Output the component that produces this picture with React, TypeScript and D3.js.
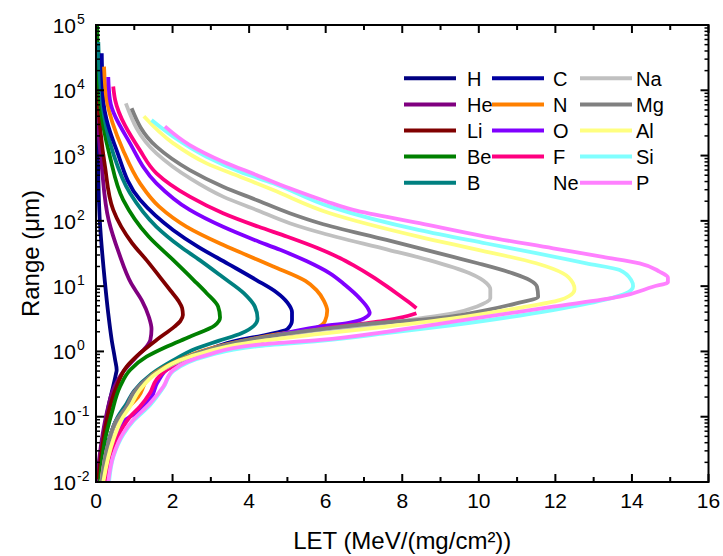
import React from 'react';
import * as d3 from 'd3';

const W = 723;
const H = 556;
const PX0 = 96, PX1 = 708.5, PY0 = 25, PY1 = 482;

const ions = ['H', 'He', 'Li', 'Be', 'B', 'C', 'N', 'O', 'F', 'Ne', 'Na', 'Mg', 'Al', 'Si', 'P'];
const colors = ['#000080', '#800080', '#800000', '#008000', '#008080', '#0000A0', '#FF8000', '#8000FF', '#FF0080', '#FFFFFF', '#C0C0C0', '#808080', '#FFFF80', '#80FFFF', '#FF80FF'];

const xTicks = [0, 2, 4, 6, 8, 10, 12, 14, 16];
const yExps = [-2, -1, 0, 1, 2, 3, 4, 5];

// [LET MeV/(mg/cm2), Range µm]
const hData: number[][] = [[0.008, 1e5], [0.03, 1e4], [0.05, 1000], [0.10, 100], [0.23, 12], [0.32, 3.8], [0.41, 1.5], [0.50, 0.74], [0.54, 0.52], [0.52, 0.45], [0.48, 0.35], [0.42, 0.25], [0.30, 0.12], [0.18, 0.045], [0.08, 0.015], [0.05, 0.01]];
const heData: number[][] = [[0.01, 1e5], [0.02, 7100], [0.15, 680], [0.33, 103], [0.60, 32], [0.92, 11], [1.20, 6.0], [1.38, 3.4], [1.45, 2.2], [1.42, 1.5], [1.30, 1.15], [1.06, 0.83], [0.71, 0.49], [0.45, 0.26], [0.28, 0.113], [0.15, 0.044], [0.06, 0.017], [0.02, 0.01]];
const liData: number[][] = [[0.02, 1e5], [0.06, 7100], [0.235, 680], [0.45, 147], [0.95, 45], [1.32, 25], [1.66, 14], [1.95, 8.5], [2.15, 6.0], [2.25, 4.6], [2.27, 3.6], [2.20, 2.9], [2.05, 2.4], [1.58, 1.5], [1.15, 0.94], [0.80, 0.585], [0.54, 0.29], [0.32, 0.113], [0.19, 0.044], [0.06, 0.011]];
const beData: number[][] = [[0.03, 1e5], [0.10, 7100], [0.365, 960], [0.71, 210], [1.38, 57], [2.02, 25], [2.55, 12.4], [2.89, 7.8], [3.19, 4.85], [3.24, 3.3], [3.10, 2.5], [2.45, 1.68], [1.84, 1.18], [1.32, 0.83], [0.89, 0.52], [0.63, 0.29], [0.41, 0.113], [0.235, 0.044], [0.10, 0.01]];
const bData: number[][] = [[0.06, 55000], [0.15, 7100], [0.45, 1080], [0.89, 264], [1.58, 81], [2.21, 40], [2.71, 25], [3.29, 14], [3.86, 7.8], [4.15, 4.85], [4.22, 3.2], [4.12, 2.45], [3.80, 1.9], [3.20, 1.45], [2.60, 1.1], [2.00, 0.72], [1.45, 0.45], [1.00, 0.25], [0.80, 0.16], [0.55, 0.095], [0.33, 0.042], [0.15, 0.01]];
const cData: number[][] = [[0.15, 37000], [0.19, 7100], [0.54, 1200], [1.15, 210], [2.02, 72], [2.67, 40], [3.45, 22], [4.19, 12.4], [4.72, 8.0], [5.00, 5.6], [5.12, 4.0], [5.12, 3.0], [5.00, 2.2], [4.45, 1.8], [3.76, 1.5], [2.89, 1.05], [2.02, 0.66], [1.41, 0.41], [0.97, 0.23], [0.80, 0.143], [0.54, 0.089], [0.32, 0.039], [0.15, 0.01]];
const nData: number[][] = [[0.21, 23000], [0.28, 7100], [0.71, 1200], [1.15, 376], [1.65, 165], [2.37, 81], [3.24, 45], [3.93, 30], [4.63, 20], [5.47, 12], [5.76, 8.7], [5.95, 6.0], [6.04, 4.2], [5.98, 2.9], [5.76, 2.3], [5.50, 2.15], [4.80, 1.85], [4.19, 1.6], [2.89, 1.07], [2.02, 0.67], [1.41, 0.41], [1.10, 0.2], [0.85, 0.14], [0.54, 0.085], [0.32, 0.037], [0.14, 0.01]];
const oData: number[][] = [[0.32, 16000], [0.365, 7100], [0.89, 1540], [1.58, 376], [2.45, 147], [3.32, 81], [4.14, 51], [4.81, 36], [5.51, 24], [6.11, 15.7], [6.50, 10.5], [6.89, 6.5], [7.11, 4.5], [7.15, 3.9], [7.00, 3.2], [6.60, 2.75], [5.85, 2.4], [4.19, 1.5], [2.89, 1.0], [2.02, 0.62], [1.60, 0.33], [1.45, 0.2], [1.10, 0.12], [0.76, 0.089], [0.50, 0.05], [0.30, 0.022], [0.15, 0.01]];
const fData: number[][] = [[0.45, 11400], [0.50, 7100], [1.15, 1200], [1.58, 535], [2.45, 235], [3.32, 131], [4.25, 81], [5.00, 57], [5.80, 38], [6.37, 27], [6.72, 21], [7.22, 14], [7.59, 10], [7.85, 7.8], [8.15, 5.8], [8.37, 4.6], [NaN, NaN], [8.37, 3.85], [8.02, 3.36], [7.50, 2.95], [5.85, 2.2], [4.19, 1.4], [2.89, 0.94], [2.19, 0.66], [1.84, 0.52], [1.58, 0.37], [1.41, 0.23], [1.15, 0.143], [0.89, 0.10], [0.71, 0.071], [0.45, 0.031], [0.235, 0.01]];
const neData: number[][] = [];
const naData: number[][] = [[0.78, 6300], [1.58, 1080], [2.45, 450], [3.32, 235], [4.19, 147], [5.06, 92], [5.78, 68], [7.64, 36], [8.70, 25], [9.76, 15.7], [10.20, 11.1], [10.30, 9.0], [10.30, 6.5], [9.94, 4.85], [9.33, 3.84], [8.45, 3.2], [7.15, 2.54], [5.85, 2.13], [4.19, 1.55], [2.89, 1.02], [2.02, 0.64], [1.41, 0.40], [0.97, 0.22], [0.80, 0.14], [0.54, 0.087], [0.32, 0.038], [0.14, 0.01]];
const mgData: number[][] = [[0.93, 5300], [1.58, 1370], [2.45, 600], [3.32, 334], [4.19, 209], [5.06, 131], [5.85, 92], [7.59, 51], [9.33, 28], [9.97, 22.4], [10.89, 15.7], [11.33, 12.4], [11.52, 9.8], [11.55, 6.9], [10.98, 5.46], [10.20, 4.3], [8.45, 3.03], [7.60, 2.8], [5.90, 2.2], [4.19, 1.59], [2.89, 1.05], [2.02, 0.66], [1.41, 0.41], [0.97, 0.23], [0.80, 0.143], [0.54, 0.089], [0.32, 0.039], [0.15, 0.01]];
const alData: number[][] = [[1.25, 4000], [2.02, 1540], [2.89, 760], [3.76, 475], [4.63, 297], [6.11, 131], [8.45, 57], [9.98, 36], [11.50, 22.4], [12.20, 15.7], [12.46, 11.1], [12.50, 9.0], [12.35, 7.0], [12.11, 6.1], [10.98, 4.57], [9.33, 3.2], [7.59, 2.4], [5.85, 1.85], [4.19, 1.41], [2.45, 0.83], [1.58, 0.46], [1.15, 0.26], [0.89, 0.143], [0.71, 0.1], [0.45, 0.044], [0.19, 0.01]];
const siData: number[][] = [[1.45, 3500], [2.02, 1950], [2.89, 960], [3.76, 567], [4.63, 376], [6.11, 165], [8.45, 72], [10.20, 45], [11.50, 32], [12.81, 22.4], [13.68, 17.7], [13.98, 12.4], [14.03, 10], [13.85, 7.8], [13.24, 6.1], [11.94, 4.3], [9.33, 2.54], [7.59, 1.9], [5.85, 1.45], [4.19, 1.2], [2.89, 0.85], [2.02, 0.5], [1.76, 0.28], [1.41, 0.15], [0.97, 0.085], [0.71, 0.053], [0.45, 0.024], [0.34, 0.01]];
const pData: number[][] = [[1.80, 2800], [2.45, 1450], [3.32, 807], [4.19, 505], [5.06, 315], [6.00, 200], [6.72, 147], [8.45, 92], [10.20, 57], [11.94, 38], [13.24, 28], [14.20, 22.4], [14.72, 16.7], [14.94, 13.5], [14.94, 11.5], [14.55, 9.8], [13.68, 6.9], [11.94, 4.85], [9.33, 2.86], [7.59, 2.0], [5.85, 1.5], [4.19, 1.26], [2.89, 0.88], [2.02, 0.52], [1.76, 0.29], [1.41, 0.16], [0.97, 0.089], [0.71, 0.056], [0.45, 0.025], [0.32, 0.01]];

const seriesData = [hData, heData, liData, beData, bData, cData, nData, oData, fData, neData, naData, mgData, alData, siData, pData];

const FONT = 'Arial, "Liberation Sans", sans-serif';

export default function App() {
  const x = d3.scaleLinear().domain([0, 16]).range([PX0, PX1]);
  const y = d3.scaleLog().domain([1e-2, 1e5]).range([PY1, PY0]);
  const line = d3.line<number[]>()
    .defined(d => !isNaN(d[0]))
    .x(d => x(d[0]))
    .y(d => y(d[1]))
    .curve(d3.curveMonotoneY);

  const xMinor = d3.range(1, 16, 2);
  const yMinor: number[] = [];
  for (let e = -2; e < 5; e++) for (let k = 2; k <= 9; k++) yMinor.push(k * Math.pow(10, e));

  const legendCols = [
    { lx: 404, tx: 467 },
    { lx: 492, tx: 553 },
    { lx: 580, tx: 636 },
  ];
  const rowY0 = 78.3, rowDy = 26.1, lineLen = 52;

  return (
    <svg width={W} height={H} style={{ position: 'absolute', left: 0, top: 0, background: '#fff' }} fontFamily={FONT}>
      <defs>
        <clipPath id="plotclip">
          <rect x={PX0} y={PY0} width={PX1 - PX0} height={PY1 - PY0} />
        </clipPath>
      </defs>
      <rect x={0} y={0} width={W} height={H} fill="#fff" />
      <g clipPath="url(#plotclip)">
        {seriesData.map((d, i) => d.length ? (
          <path key={ions[i]} d={line(d) || ''} fill="none" stroke={colors[i]} strokeWidth={3.8} strokeLinejoin="round" strokeLinecap="butt" />
        ) : null)}
      </g>
      <rect x={PX0} y={PY0} width={PX1 - PX0} height={PY1 - PY0} fill="none" stroke="#000" strokeWidth={2} />
      {xTicks.map(t => (
        <g key={'xt' + t}>
          <line x1={x(t)} x2={x(t)} y1={PY1} y2={PY1 - 8} stroke="#000" strokeWidth={2} />
          <line x1={x(t)} x2={x(t)} y1={PY0} y2={PY0 + 8} stroke="#000" strokeWidth={2} />
          <text x={x(t)} y={PY1 + 26} textAnchor="middle" fontSize={21}>{t}</text>
        </g>
      ))}
      {xMinor.map(t => (
        <g key={'xm' + t}>
          <line x1={x(t)} x2={x(t)} y1={PY1} y2={PY1 - 5} stroke="#000" strokeWidth={2} />
          <line x1={x(t)} x2={x(t)} y1={PY0} y2={PY0 + 5} stroke="#000" strokeWidth={2} />
        </g>
      ))}
      {yExps.map(e => {
        const v = Math.pow(10, e);
        const yy = y(v);
        return (
          <g key={'yt' + e}>
            <line x1={PX0} x2={PX0 + 8} y1={yy} y2={yy} stroke="#000" strokeWidth={2} />
            <line x1={PX1} x2={PX1 - 8} y1={yy} y2={yy} stroke="#000" strokeWidth={2} />
            <text x={76} y={yy + 8} textAnchor="end" fontSize={21}>10</text>
            <text x={77} y={yy - 1} textAnchor="start" fontSize={14}>{e < 0 ? '-' + Math.abs(e) : String(e)}</text>
          </g>
        );
      })}
      {yMinor.map((v, i) => (
        <g key={'ym' + i}>
          <line x1={PX0} x2={PX0 + 4} y1={y(v)} y2={y(v)} stroke="#000" strokeWidth={1.5} />
          <line x1={PX1} x2={PX1 - 4} y1={y(v)} y2={y(v)} stroke="#000" strokeWidth={1.5} />
        </g>
      ))}
      <text x={(PX0 + PX1) / 2} y={549} textAnchor="middle" fontSize={24}>LET (MeV/(mg/cm²))</text>
      <text transform={`translate(39, ${(PY0 + PY1) / 2}) rotate(-90)`} textAnchor="middle" fontSize={24}>Range (μm)</text>
      {ions.map((name, i) => {
        const col = Math.floor(i / 5);
        const row = i % 5;
        const c = legendCols[col];
        const ly = rowY0 + row * rowDy;
        return (
          <g key={'lg' + name}>
            <line x1={c.lx} x2={c.lx + lineLen} y1={ly} y2={ly} stroke={colors[i]} strokeWidth={4} />
            <text x={c.tx} y={ly + 7.5} fontSize={20}>{name}</text>
          </g>
        );
      })}
    </svg>
  );
}
